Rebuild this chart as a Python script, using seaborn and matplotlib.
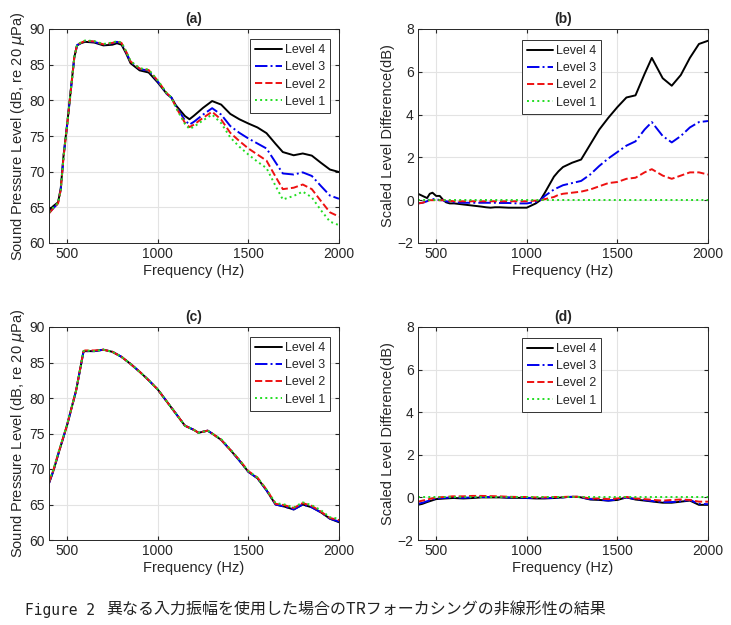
import numpy as np
import pandas as pd
import matplotlib
matplotlib.use("Agg")
import matplotlib.pyplot as plt
import seaborn as sns

# ---------------- data ----------------
levels = ["Level 4", "Level 3", "Level 2", "Level 1"]

freq_top = [400, 425, 450, 465, 480, 500, 520, 540, 555, 575, 600, 650, 700, 750, 775, 800, 825, 850,
            900, 950, 1000, 1050, 1075, 1100, 1150, 1175, 1200, 1250, 1300, 1350, 1400, 1450, 1500,
            1550, 1600, 1650, 1690, 1750, 1800, 1850, 1900, 1950, 2000]

a_level4 = [64.6, 65.2, 65.7, 67.7, 72.2, 76.6, 81.4, 86.1, 87.7, 88.0, 88.2, 88.1, 87.7, 87.8, 88.0, 87.8,
            86.6, 85.2, 84.2, 83.9, 82.5, 80.9, 80.4, 79.3, 77.8, 77.35, 77.85, 78.95, 79.9, 79.4,
            78.1, 77.35, 76.75, 76.2, 75.4, 73.9, 72.75, 72.3, 72.55, 72.25, 71.25, 70.3, 69.95]
a_level3 = [64.2, 64.9, 65.55, 67.55, 72.05, 76.55, 81.3, 86.1, 87.75, 88.0, 88.3, 88.2, 87.8, 88.0, 88.2,
            88.0, 86.8, 85.4, 84.4, 84.15, 82.65, 80.9, 80.4, 79.2, 77.2, 76.6, 77.0, 78.0, 78.9,
            78.0, 76.4, 75.45, 74.65, 73.95, 73.25, 71.3, 69.75, 69.6, 69.9, 69.4, 68.0, 66.65, 66.2]
a_level2 = [64.15, 64.9, 65.55, 67.5, 72.0, 76.5, 81.3, 86.1, 87.8, 88.05, 88.35, 88.25, 87.85, 88.05, 88.25,
            88.05, 86.85, 85.45, 84.45, 84.25, 82.75, 80.98, 80.4, 79.05, 76.85, 76.25, 76.6, 77.55,
            78.4, 77.3, 75.45, 74.3, 73.25, 72.4, 71.55, 69.3, 67.55, 67.75, 68.2, 67.55, 65.9, 64.3, 63.7]
a_level1 = [64.3, 65.0, 65.6, 67.5, 72.0, 76.5, 81.3, 86.1, 87.8, 88.1, 88.4, 88.3, 87.9, 88.1, 88.3, 88.1,
            86.9, 85.5, 84.5, 84.3, 82.8, 81.0, 80.4, 79.0, 76.7, 76.0, 76.3, 77.2, 78.0, 76.8, 74.8,
            73.5, 72.4, 71.4, 70.5, 68.0, 66.1, 66.6, 67.2, 66.4, 64.6, 63.0, 62.5]

b_level4 = [0.3, 0.2, 0.1, 0.3, 0.35, 0.2, 0.2, 0.0, -0.1, -0.15, -0.15, -0.2, -0.25, -0.3, -0.33, -0.35,
            -0.33, -0.33, -0.35, -0.35, -0.35, -0.15, 0.0, 0.35, 1.1, 1.35, 1.55, 1.75, 1.9, 2.6,
            3.3, 3.85, 4.35, 4.8, 4.9, 5.9, 6.65, 5.7, 5.35, 5.85, 6.65, 7.3, 7.45]
b_level3 = [-0.15, -0.12, -0.05, 0.05, 0.05, 0.05, 0.0, 0.0, -0.05, -0.08, -0.1, -0.12, -0.12, -0.12, -0.12,
            -0.12, -0.12, -0.13, -0.13, -0.15, -0.15, -0.08, 0.0, 0.2, 0.5, 0.6, 0.7, 0.8, 0.9, 1.2,
            1.6, 1.95, 2.25, 2.55, 2.75, 3.3, 3.65, 3.0, 2.7, 3.0, 3.4, 3.65, 3.7]
b_level2 = [-0.15, -0.12, -0.05, 0.0, 0.0, 0.0, 0.0, 0.0, -0.02, -0.03, -0.05, -0.05, -0.05, -0.05, -0.05,
            -0.05, -0.05, -0.05, -0.05, -0.05, -0.05, -0.02, 0.0, 0.05, 0.15, 0.25, 0.3, 0.35, 0.4,
            0.5, 0.65, 0.8, 0.85, 1.0, 1.05, 1.3, 1.45, 1.15, 1.0, 1.15, 1.3, 1.3, 1.2]
b_level1 = [0.0] * 43

freq_bot = [400, 425, 450, 500, 550, 590, 600, 650, 700, 750, 800, 850, 900, 950, 1000, 1050, 1100,
            1150, 1200, 1225, 1275, 1300, 1350, 1400, 1450, 1500, 1550, 1600, 1650, 1700, 1750,
            1800, 1850, 1900, 1950, 2000]

c_level4 = [68.0, 69.8, 72.0, 76.2, 81.1, 86.5, 86.6, 86.6, 86.8, 86.5, 85.8, 84.8, 83.7, 82.5, 81.2,
            79.5, 77.8, 76.1, 75.5, 75.1, 75.4, 75.0, 74.1, 72.7, 71.2, 69.6, 68.7, 67.0, 65.0, 64.7,
            64.3, 65.0, 64.6, 63.9, 63.0, 62.5]
c_level3 = [68.0, 69.8, 72.0, 76.2, 81.1, 86.5, 86.6, 86.6, 86.8, 86.5, 85.8, 84.8, 83.7, 82.5, 81.2,
            79.5, 77.8, 76.1, 75.5, 75.1, 75.4, 75.0, 74.1, 72.7, 71.2, 69.6, 68.7, 67.0, 65.0, 64.7,
            64.3, 65.0, 64.6, 63.9, 63.0, 62.6]
c_level2 = [68.1, 69.9, 72.1, 76.2, 81.1, 86.6, 86.7, 86.7, 86.8, 86.5, 85.8, 84.8, 83.7, 82.5, 81.2,
            79.5, 77.8, 76.1, 75.5, 75.1, 75.4, 75.0, 74.1, 72.7, 71.3, 69.7, 68.8, 67.1, 65.1, 64.9,
            64.5, 65.2, 64.8, 64.0, 63.1, 62.8]
c_level1 = [68.3, 70.0, 72.2, 76.3, 81.1, 86.6, 86.7, 86.6, 86.8, 86.5, 85.8, 84.8, 83.7, 82.5, 81.2,
            79.5, 77.8, 76.1, 75.5, 75.1, 75.4, 75.0, 74.2, 72.8, 71.3, 69.7, 68.8, 67.1, 65.2, 65.0,
            64.6, 65.3, 64.9, 64.2, 63.2, 63.0]

d_level4 = [-0.35, -0.3, -0.22, -0.08, -0.05, -0.03, -0.03, -0.05, -0.03, 0.0, 0.0, 0.0, -0.02, -0.02,
            -0.03, -0.05, -0.05, -0.03, 0.0, 0.02, 0.03, 0.0, -0.1, -0.12, -0.15, -0.12, 0.0, -0.1,
            -0.15, -0.2, -0.25, -0.25, -0.2, -0.15, -0.35, -0.35]
d_level3 = [-0.3, -0.25, -0.18, -0.05, -0.02, 0.0, 0.0, -0.02, 0.0, 0.02, 0.02, 0.02, 0.0, 0.0, -0.02,
            -0.03, -0.03, -0.02, 0.0, 0.02, 0.03, 0.0, -0.08, -0.1, -0.15, -0.1, 0.0, -0.08, -0.12,
            -0.18, -0.22, -0.22, -0.18, -0.12, -0.3, -0.32]
d_level2 = [-0.2, -0.15, -0.1, 0.0, 0.02, 0.05, 0.05, 0.05, 0.07, 0.07, 0.06, 0.05, 0.03, 0.02, 0.02,
            0.0, 0.0, 0.02, 0.02, 0.03, 0.03, 0.02, -0.05, -0.05, -0.08, -0.05, 0.02, -0.05, -0.08,
            -0.12, -0.15, -0.12, -0.1, -0.12, -0.2, -0.2]
d_level1 = [0.0] * 36

x_ticks = [500, 1000, 1500, 2000]
spl_ticks = [60, 65, 70, 75, 80, 85, 90]
diff_ticks = [-2, 0, 2, 4, 6, 8]
caption_label = "Figure 2"
caption_text = "異なる入力振幅を使用した場合のTRフォーカシングの非線形性の結果"

# ---------------- style ----------------
sns.set_style("ticks")
plt.rcParams["font.family"] = ["Liberation Sans", "Noto Sans CJK JP", "DejaVu Sans"]

colors = {"Level 4": "#000000", "Level 3": "#0000ee", "Level 2": "#ee1111", "Level 1": "#22dd22"}
styles = {"Level 4": "-", "Level 3": "-.", "Level 2": "--", "Level 1": ":"}

fig = plt.figure(figsize=(7.31, 6.25), dpi=100)
W, H = 731, 625


def make_ax(l, t, r, b):
    return fig.add_axes([l / W, 1 - b / H, (r - l) / W, (b - t) / H])


axes = {
    "a": make_ax(49, 29, 339, 243),
    "b": make_ax(418, 29, 708, 243),
    "c": make_ax(49, 327, 339, 540),
    "d": make_ax(418, 327, 708, 540),
}

panels = {
    "a": (freq_top, [a_level4, a_level3, a_level2, a_level1]),
    "b": (freq_top, [b_level4, b_level3, b_level2, b_level1]),
    "c": (freq_bot, [c_level4, c_level3, c_level2, c_level1]),
    "d": (freq_bot, [d_level4, d_level3, d_level2, d_level1]),
}

for key, ax in axes.items():
    fq, series = panels[key]
    for lvl, vals in zip(levels, series):
        df = pd.DataFrame({"Frequency": fq, "Value": vals})
        sns.lineplot(data=df, x="Frequency", y="Value", ax=ax, color=colors[lvl],
                     linestyle=styles[lvl], linewidth=1.4, label=lvl, sort=True,
                     estimator=None)
    ax.set_xlim(400, 2000)
    ax.set_xticks(x_ticks)
    if key in ("a", "c"):
        ax.set_ylim(60, 90)
        ax.set_yticks(spl_ticks)
        ax.set_ylabel("Sound Pressure Level (dB, re 20 $\\mu$Pa)", fontsize=10.5, labelpad=2)
        loc = "upper right"
        bbox = (1 - 9 / 290, 1 - 10 / 214)
    else:
        ax.set_ylim(-2, 8)
        ax.set_yticks(diff_ticks)
        ax.set_ylabel("Scaled Level Difference(dB)", fontsize=10.5, labelpad=2)
        loc = "upper center"
        bbox = (0.495, 1 - 11 / 214)
    ax.set_xlabel("Frequency (Hz)", fontsize=10.5, labelpad=2)
    ax.set_title(f"({key})", fontsize=10, fontweight="bold", pad=4)
    ax.grid(True, color="#e3e3e3", linewidth=0.8)
    ax.tick_params(direction="in", length=3, labelsize=10, colors="#262626", pad=3,
                   top=True, right=True)
    for sp in ax.spines.values():
        sp.set_visible(True)
        sp.set_color("#262626")
        sp.set_linewidth(0.7)
    leg = ax.legend(loc=loc, bbox_to_anchor=bbox, fontsize=9, handlelength=2.1,
                    frameon=True, fancybox=False, edgecolor="#333333", framealpha=1,
                    borderpad=0.4, labelspacing=0.42, handletextpad=0.25, borderaxespad=0.0)
    leg.get_frame().set_linewidth(0.7)

fig.text(25 / W, 1 - 610 / H, caption_label, fontsize=10.5, va="center", ha="left",
         family=["DejaVu Sans Mono"], color="#222222")
fig.text(106 / W, 1 - 609 / H, caption_text, fontsize=11.5, va="center", ha="left",
         family=["Noto Sans CJK JP", "DejaVu Sans"], color="#222222")

fig.savefig("out.png", dpi=100)
